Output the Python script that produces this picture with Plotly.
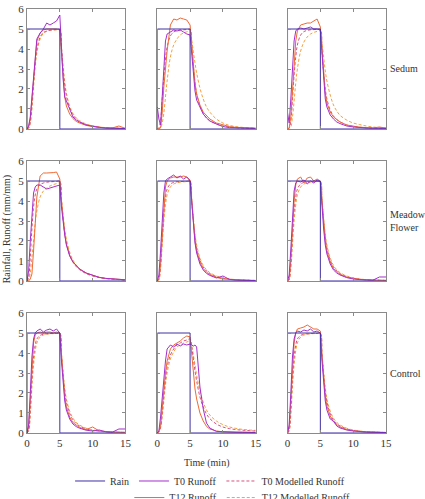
import plotly.graph_objects as go
from plotly.subplots import make_subplots

# ---------------- data ----------------
T = [0, 0.25, 0.5, 0.75, 1, 1.25, 1.5, 2, 2.5, 3, 3.5, 4, 4.5, 5, 5.25, 5.5, 5.75,
     6, 6.5, 7, 7.5, 8, 9, 10, 11, 12, 13, 14, 15]
RAIN_T = [0, 0, 5, 5, 15]
RAIN_V = [0, 5, 5, 0, 0]

ROW_NAMES = ["Sedum", "Meadow<br>Flower", "Control"]
X_TICKS = [0, 5, 10, 15]
Y_TICKS = [0, 1, 2, 3, 4, 5, 6]

# Sedum
sed1_t0 = [0, 0.15, 0.6, 1.6, 2.7, 3.7, 4.5, 4.8, 5.0, 5.3, 5.2, 5.3, 5.4, 5.7, 3.9, 2.5, 1.6, 1.4, 1.0, 0.6, 0.45, 0.35, 0.2, 0.13, 0.08, 0.05, 0.04, 0.03, 0.02]
sed1_t12 = [0, 0.1, 0.5, 1.5, 2.6, 3.6, 4.4, 4.8, 4.95, 5.0, 5.0, 5.0, 5.0, 4.95, 3.7, 2.4, 1.6, 1.15, 0.75, 0.52, 0.38, 0.3, 0.18, 0.12, 0.08, 0.06, 0.05, 0.15, 0.03]
sed1_t0m = [0, 0.05, 0.35, 1.2, 2.3, 3.3, 4.0, 4.6, 4.82, 4.9, 4.94, 4.96, 4.97, 4.98, 4.0, 3.0, 2.2, 1.65, 1.05, 0.7, 0.5, 0.37, 0.22, 0.14, 0.09, 0.06, 0.05, 0.04, 0.03]
sed1_t12m = [0, 0.03, 0.3, 1.0, 2.1, 3.1, 3.8, 4.5, 4.78, 4.88, 4.93, 4.95, 4.96, 4.97, 4.1, 3.15, 2.35, 1.8, 1.15, 0.78, 0.56, 0.42, 0.25, 0.16, 0.1, 0.07, 0.05, 0.04, 0.03]

sed2_t0 = [1.1, 0.5, 0.2, 1.6, 3.3, 4.4, 4.75, 4.85, 4.95, 4.9, 4.95, 4.85, 4.75, 4.7, 3.8, 2.75, 1.9, 1.45, 1.1, 0.75, 0.55, 0.4, 0.25, 0.12, 0.07, 0.05, 0.05, 0.04, 0.03]
sed2_t12 = [0, 0, 0.05, 0.8, 2.1, 3.2, 3.9, 5.2, 5.5, 5.45, 5.55, 5.5, 5.45, 5.2, 4.2, 3.1, 2.3, 1.75, 1.2, 0.85, 0.65, 0.5, 0.3, 0.2, 0.12, 0.08, 0.06, 0.05, 0.04]
sed2_t0m = [0, 0.05, 0.4, 1.5, 2.6, 3.5, 4.1, 4.65, 4.85, 4.92, 4.95, 4.96, 4.97, 4.98, 4.1, 3.1, 2.3, 1.75, 1.15, 0.78, 0.56, 0.42, 0.25, 0.15, 0.1, 0.07, 0.05, 0.04, 0.03]
sed2_t12m = [0, 0, 0.05, 0.3, 0.8, 1.6, 2.4, 3.6, 4.2, 4.5, 4.7, 4.8, 4.86, 4.9, 4.45, 3.85, 3.3, 2.8, 2.05, 1.5, 1.1, 0.85, 0.5, 0.3, 0.18, 0.12, 0.08, 0.05, 0.04]

sed3_t0 = [0.8, 0.3, 1.5, 3.2, 4.4, 4.9, 5.0, 5.05, 5.0, 5.05, 5.1, 5.0, 5.0, 4.95, 3.6, 2.3, 1.5, 1.1, 0.7, 0.5, 0.35, 0.27, 0.15, 0.1, 0.06, 0.05, 0.04, 0.05, 0.03]
sed3_t12 = [0, 0.05, 0.6, 2.0, 3.4, 4.4, 4.9, 5.2, 5.25, 5.3, 5.3, 5.4, 5.5, 5.1, 4.0, 2.7, 1.8, 1.3, 0.85, 0.6, 0.45, 0.35, 0.2, 0.14, 0.09, 0.07, 0.05, 0.1, 0.04]
sed3_t0m = [0, 0.05, 0.4, 1.5, 2.7, 3.6, 4.2, 4.7, 4.87, 4.93, 4.96, 4.97, 4.98, 4.98, 3.9, 2.8, 2.0, 1.5, 0.95, 0.65, 0.47, 0.36, 0.21, 0.13, 0.09, 0.06, 0.05, 0.04, 0.03]
sed3_t12m = [0, 0, 0.1, 0.6, 1.4, 2.3, 3.0, 3.9, 4.35, 4.6, 4.75, 4.83, 4.88, 4.9, 4.3, 3.6, 2.9, 2.4, 1.7, 1.2, 0.9, 0.68, 0.45, 0.3, 0.22, 0.15, 0.1, 0.07, 0.05]

# Meadow Flower
mea1_t0 = [0, 0.5, 2.0, 3.5, 4.4, 4.7, 4.8, 4.8, 4.7, 4.6, 4.65, 4.7, 4.75, 4.8, 3.7, 2.9, 2.3, 1.8, 1.25, 0.95, 0.75, 0.6, 0.4, 0.27, 0.18, 0.13, 0.1, 0.08, 0.06]
mea1_t12 = [0, 0, 0.1, 0.35, 1.5, 2.9, 4.2, 5.25, 5.4, 5.4, 5.4, 5.42, 5.45, 5.1, 4.0, 3.0, 2.35, 1.85, 1.3, 0.95, 0.75, 0.6, 0.4, 0.28, 0.18, 0.13, 0.1, 0.08, 0.06]
mea1_t0m = [0, 0.2, 1.2, 2.6, 3.7, 4.3, 4.6, 4.82, 4.9, 4.94, 4.96, 4.97, 4.98, 4.99, 4.0, 3.1, 2.4, 1.9, 1.3, 0.95, 0.72, 0.57, 0.37, 0.25, 0.17, 0.12, 0.09, 0.07, 0.05]
mea1_t12m = [0, 0.05, 0.4, 1.2, 2.0, 2.9, 3.5, 4.2, 4.5, 4.65, 4.75, 4.82, 4.87, 4.9, 4.1, 3.3, 2.6, 2.1, 1.45, 1.05, 0.8, 0.62, 0.4, 0.27, 0.19, 0.13, 0.1, 0.07, 0.05]

mea2_t0 = [0, 0.3, 1.5, 3.2, 4.4, 5.0, 5.1, 5.2, 5.3, 5.15, 5.25, 5.1, 5.2, 5.0, 3.8, 2.7, 1.9, 1.4, 0.85, 0.55, 0.38, 0.28, 0.15, 0.25, 0.08, 0.05, 0.04, 0.03, 0.02]
mea2_t12 = [0, 0.1, 0.8, 2.3, 3.8, 4.7, 5.0, 5.15, 5.2, 5.2, 5.2, 5.25, 5.2, 5.05, 4.0, 2.9, 2.0, 1.5, 0.95, 0.62, 0.44, 0.32, 0.18, 0.1, 0.07, 0.05, 0.04, 0.03, 0.02]
mea2_t0m = [0, 0.1, 0.9, 2.3, 3.5, 4.2, 4.6, 4.85, 4.93, 4.96, 4.97, 4.98, 4.98, 4.99, 4.0, 3.0, 2.2, 1.65, 1.05, 0.7, 0.5, 0.37, 0.22, 0.14, 0.09, 0.06, 0.05, 0.04, 0.03]
mea2_t12m = [0, 0.05, 0.6, 1.8, 3.0, 3.8, 4.3, 4.7, 4.85, 4.91, 4.94, 4.96, 4.97, 4.98, 4.1, 3.15, 2.35, 1.8, 1.15, 0.78, 0.56, 0.42, 0.25, 0.16, 0.1, 0.07, 0.05, 0.04, 0.03]

mea3_t0 = [0, 0.3, 1.6, 3.4, 4.5, 4.9, 5.0, 4.95, 5.05, 4.85, 5.0, 4.9, 5.05, 4.95, 3.7, 2.6, 1.8, 1.35, 0.85, 0.55, 0.4, 0.3, 0.17, 0.1, 0.07, 0.05, 0.04, 0.2, 0.2]
mea3_t12 = [0, 0.1, 1.0, 2.7, 4.0, 4.8, 5.1, 5.2, 4.9, 5.15, 5.2, 5.0, 5.1, 5.0, 3.9, 2.8, 2.0, 1.5, 0.95, 0.62, 0.45, 0.33, 0.19, 0.12, 0.08, 0.06, 0.05, 0.04, 0.03]
mea3_t0m = [0, 0.1, 0.9, 2.3, 3.5, 4.2, 4.6, 4.85, 4.93, 4.96, 4.97, 4.98, 4.98, 4.99, 4.0, 3.0, 2.2, 1.65, 1.05, 0.7, 0.5, 0.37, 0.22, 0.14, 0.09, 0.06, 0.05, 0.04, 0.03]
mea3_t12m = [0, 0.05, 0.6, 1.8, 3.0, 3.8, 4.3, 4.7, 4.85, 4.91, 4.94, 4.96, 4.97, 4.98, 4.1, 3.15, 2.35, 1.8, 1.15, 0.78, 0.56, 0.42, 0.25, 0.16, 0.1, 0.07, 0.05, 0.04, 0.03]

# Control
con1_t0 = [0, 0.4, 2.0, 3.8, 4.7, 5.0, 5.1, 5.2, 5.05, 5.15, 5.2, 5.1, 5.2, 5.0, 3.6, 2.4, 1.6, 1.15, 0.7, 0.45, 0.32, 0.24, 0.14, 0.1, 0.15, 0.06, 0.04, 0.2, 0.2]
con1_t12 = [0, 0.3, 1.6, 3.4, 4.5, 4.9, 5.0, 5.05, 5.0, 5.05, 5.05, 5.0, 5.05, 5.0, 3.8, 2.6, 1.8, 1.3, 0.8, 0.52, 0.38, 0.28, 0.17, 0.3, 0.1, 0.06, 0.05, 0.04, 0.03]
con1_t0m = [0, 0.15, 1.2, 2.7, 3.8, 4.4, 4.7, 4.88, 4.94, 4.96, 4.97, 4.98, 4.98, 4.99, 3.9, 2.9, 2.1, 1.55, 0.98, 0.65, 0.47, 0.35, 0.21, 0.13, 0.09, 0.06, 0.05, 0.04, 0.03]
con1_t12m = [0, 0.1, 0.9, 2.3, 3.4, 4.1, 4.5, 4.8, 4.9, 4.94, 4.96, 4.97, 4.98, 4.99, 4.0, 3.05, 2.25, 1.7, 1.1, 0.74, 0.53, 0.4, 0.24, 0.15, 0.1, 0.07, 0.05, 0.04, 0.03]

con2_t0 = [0, 0.1, 0.8, 1.8, 2.8, 3.6, 4.2, 4.4, 4.3, 4.45, 4.35, 4.45, 4.4, 4.45, 4.4, 4.35, 4.4, 4.3, 2.3, 1.2, 0.5, 0.25, 0.08, 0.06, 0.05, 0.04, 0.04, 0.03, 0.03]
con2_t12 = [0, 0.1, 0.33, 1.2, 2.3, 3.0, 3.6, 4.2, 4.4, 4.5, 4.6, 4.75, 4.85, 4.8, 3.8, 2.8, 2.2, 1.7, 1.0, 0.6, 0.33, 0.2, 0.1, 0.06, 0.05, 0.04, 0.03, 0.03, 0.02]
con2_t0m = [0, 0.05, 0.3, 1.0, 1.9, 2.7, 3.3, 3.9, 4.2, 4.4, 4.5, 4.6, 4.65, 4.7, 4.3, 3.7, 3.1, 2.6, 1.8, 1.3, 0.95, 0.72, 0.45, 0.3, 0.22, 0.17, 0.14, 0.12, 0.1]
con2_t12m = [0, 0.03, 0.25, 0.8, 1.6, 2.4, 3.0, 3.7, 4.05, 4.3, 4.4, 4.5, 4.55, 4.6, 4.35, 3.9, 3.4, 2.9, 2.1, 1.55, 1.15, 0.9, 0.6, 0.42, 0.3, 0.23, 0.18, 0.15, 0.13]

con3_t0 = [0, 0.4, 2.0, 3.8, 4.7, 5.0, 5.1, 5.05, 5.15, 5.1, 5.2, 5.05, 5.1, 5.0, 3.6, 2.4, 1.6, 1.15, 0.7, 0.6, 0.35, 0.25, 0.15, 0.1, 0.06, 0.05, 0.04, 0.03, 0.02]
con3_t12 = [0, 0.3, 1.6, 3.3, 4.5, 5.0, 5.2, 5.25, 5.3, 5.4, 5.3, 5.2, 5.2, 5.1, 3.9, 2.7, 1.85, 1.35, 0.85, 0.55, 0.4, 0.3, 0.17, 0.11, 0.07, 0.05, 0.04, 0.03, 0.02]
con3_t0m = [0, 0.15, 1.2, 2.7, 3.8, 4.4, 4.7, 4.88, 4.94, 4.96, 4.97, 4.98, 4.98, 4.99, 3.9, 2.9, 2.1, 1.55, 0.98, 0.65, 0.47, 0.35, 0.21, 0.13, 0.09, 0.06, 0.05, 0.04, 0.03]
con3_t12m = [0, 0.1, 0.9, 2.3, 3.4, 4.1, 4.5, 4.8, 4.9, 4.94, 4.96, 4.97, 4.98, 4.99, 4.0, 3.05, 2.25, 1.7, 1.1, 0.74, 0.53, 0.4, 0.24, 0.15, 0.1, 0.07, 0.05, 0.04, 0.03]

PANELS = [
    [(sed1_t0, sed1_t0m, sed1_t12, sed1_t12m), (sed2_t0, sed2_t0m, sed2_t12, sed2_t12m), (sed3_t0, sed3_t0m, sed3_t12, sed3_t12m)],
    [(mea1_t0, mea1_t0m, mea1_t12, mea1_t12m), (mea2_t0, mea2_t0m, mea2_t12, mea2_t12m), (mea3_t0, mea3_t0m, mea3_t12, mea3_t12m)],
    [(con1_t0, con1_t0m, con1_t12, con1_t12m), (con2_t0, con2_t0m, con2_t12, con2_t12m), (con3_t0, con3_t0m, con3_t12, con3_t12m)],
]

# ---------------- style ----------------
C_RAIN = "#3f30a3"
C_T0 = "#a52fcc"
C_T0M = "#d9507e"
C_T12 = "#ee6a35"
C_T12M = "#f5a040"
FONT = '"Liberation Serif", "Times New Roman", Times, serif'
FS = 10
AX = "#8a8a8a"
TXT = "#333333"

fig = make_subplots(rows=3, cols=3, horizontal_spacing=0.0886, vertical_spacing=0.0755)

for r in range(3):
    for c in range(3):
        t0, t0m, t12, t12m = PANELS[r][c]
        first = (r == 0 and c == 0)
        specs = [
            ("Rain", RAIN_T, RAIN_V, C_RAIN, "solid", "legend", "linear"),
            ("T0 Runoff", T, t0, C_T0, "solid", "legend", "linear"),
            ("T0 Modelled Runoff", T, t0m, C_T0M, "3px,2px", "legend", "spline"),
            ("T12 Runoff", T, t12, C_T12, "solid", "legend2", "linear"),
            ("T12 Modelled Runoff", T, t12m, C_T12M, "3px,2px", "legend2", "spline"),
        ]
        order = [4, 2, 3, 1, 0]
        for k in order:
            name, xs, ys, col, dash, leg, shape = specs[k]
            fig.add_trace(go.Scatter(
                x=xs, y=ys, mode="lines", name=name,
                line=dict(color=col, width=1, dash=dash, shape=shape),
                showlegend=first, legend=leg, legendrank=k,
                hoverinfo="skip"), row=r + 1, col=c + 1)
        fig.update_xaxes(range=[0, 15], tickvals=X_TICKS, showticklabels=(r == 2),
                         row=r + 1, col=c + 1)
        fig.update_yaxes(range=[0, 6], tickvals=Y_TICKS, showticklabels=(c == 0),
                         row=r + 1, col=c + 1)

fig.update_xaxes(showline=True, linecolor=AX, linewidth=1, mirror="ticks", ticks="inside",
                 ticklen=3, tickcolor=AX, showgrid=False, zeroline=False,
                 tickfont=dict(family=FONT, size=FS + 1, color=TXT))
fig.update_yaxes(showline=True, linecolor=AX, linewidth=1, mirror="ticks", ticks="inside",
                 ticklen=3, tickcolor=AX, showgrid=False, zeroline=False,
                 tickfont=dict(family=FONT, size=FS + 1, color=TXT))

ann = []
row_y = [0.8585, 0.5, 0.1415]
for i, nm in enumerate(ROW_NAMES):
    ann.append(dict(text=nm, x=1.006, y=row_y[i], xref="paper", yref="paper",
                    xanchor="left", yanchor="middle", showarrow=False, align="left",
                    font=dict(family=FONT, size=FS, color=TXT)))
ann.append(dict(text="Time (min)", x=0.5, y=-0.052, xref="paper", yref="paper",
                xanchor="center", yanchor="top", showarrow=False,
                font=dict(family=FONT, size=FS, color=TXT)))
ann.append(dict(text="Rainfall, Runoff (mm/mm)", x=-0.055, y=0.481, xref="paper", yref="paper",
                xanchor="center", yanchor="middle", showarrow=False, textangle=-90,
                font=dict(family=FONT, size=FS, color=TXT)))

fig.update_layout(
    width=425, height=499,
    font=dict(family=FONT, size=FS, color=TXT),
    margin=dict(l=27, r=39, t=9, b=66, autoexpand=False),
    paper_bgcolor="white", plot_bgcolor="white",
    annotations=ann,
    legend=dict(orientation="h", x=0.12, xanchor="left", y=-0.079, yanchor="top",
                font=dict(family=FONT, size=FS, color=TXT), bgcolor="rgba(0,0,0,0)",
                itemwidth=30, tracegroupgap=0),
    legend2=dict(orientation="h", x=0.285, xanchor="left", y=-0.118, yanchor="top",
                 font=dict(family=FONT, size=FS, color=TXT), bgcolor="rgba(0,0,0,0)",
                 itemwidth=30, tracegroupgap=0),
)

fig.write_html("out.html")
